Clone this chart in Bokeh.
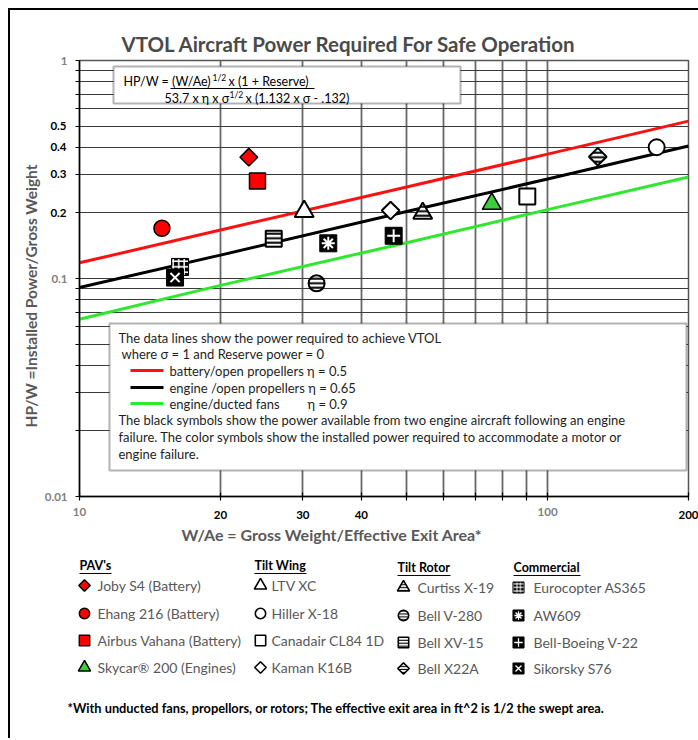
import math
from bokeh.plotting import figure
from bokeh.models import (FixedTicker, Label, BoxAnnotation, Range1d, CustomJSTickFormatter,
                          LogAxis, Title)
from bokeh.layouts import column
from bokeh.core.properties import value
from bokeh.embed import file_html
from bokeh.resources import INLINE

FONT = "Lato"

# ------------------------------------------------------------------ data
line_x = [10, 20, 50, 100, 200]
battery_open = [0.118, 0.167, 0.263, 0.372, 0.527]   # eta = 0.5
engine_open = [0.091, 0.128, 0.203, 0.286, 0.405]    # eta = 0.65
engine_ducted = [0.065, 0.093, 0.146, 0.207, 0.292]  # eta = 0.9

pav_names = ["Joby S4 (Battery)", "Ehang 216 (Battery)", "Airbus Vahana (Battery)", "Skycar\u00ae 200 (Engines)"]
pav_wae = [23.0, 15.0, 24.0, 76.0]
pav_hpw = [0.36, 0.17, 0.28, 0.22]

tiltwing_names = ["LTV XC", "Hiller X-18", "Canadair CL84 1D", "Kaman K16B"]
tiltwing_wae = [30.2, 171.0, 90.5, 46.2]
tiltwing_hpw = [0.203, 0.40, 0.238, 0.205]

tiltrotor_names = ["Curtiss X-19", "Bell V-280", "Bell XV-15", "Bell X22A"]
tiltrotor_wae = [54.1, 32.1, 26.0, 128.0]
tiltrotor_hpw = [0.199, 0.095, 0.152, 0.362]

commercial_names = ["Eurocopter AS365", "AW609", "Bell-Boeing V-22", "Sikorsky S76"]
commercial_wae = [16.4, 34.0, 46.9, 16.0]
commercial_hpw = [0.113, 0.145, 0.157, 0.101]

x_black_ticks = [20, 30, 40, 200]
x_black_labels = ["20", "30", "40", "200"]
x_grey_ticks = [10, 100]
x_grey_labels = ["10", "100"]
y_black_ticks = [0.5, 0.4, 0.3, 0.2]
y_black_labels = ["0.5", "0.4", "0.3", "0.2"]
y_grey_ticks = [1, 0.1, 0.01]
y_grey_labels = ["1", "0.1", "0.01"]

# ------------------------------------------------------------------ layout helpers (page px -> data)
X_L, X_R, Y_T, Y_B = 79, 688, 60, 496


def xd(px):
    return 10 * 20 ** ((px - X_L) / (X_R - X_L))


def yd(py):
    return 10 ** (-2 * (py - Y_T) / (Y_B - Y_T))


def draw_symbol(fig, xs, ys, shape, style, s):
    kw = dict(line_color="black")
    if shape == "diamond":
        kw.update(marker="square", angle=math.pi / 4, size=12.5 * s)
    elif shape == "circle":
        kw.update(marker="circle", size=16 * s)
    elif shape == "square":
        kw.update(marker="square", size=16 * s)
    else:
        kw.update(marker="triangle", size=19 * s)
    if style == "red":
        kw.update(fill_color="#ff0000", line_width=1.5)
    elif style == "green":
        kw.update(fill_color="#3ccc3c", line_width=1.5)
    elif style == "open":
        kw.update(fill_color="white", line_width=2 * s if s > 0.8 else 1.6)
    else:
        kw.update(fill_color="white", line_width=2 * s if s > 0.8 else 1.6,
                  hatch_pattern="horizontal_line", hatch_color="black",
                  hatch_weight=2 * s, hatch_scale=4.5 * s)
    fig.scatter(xs, ys, **kw)


def draw_commercial(fig, x, y, kind, s):
    if kind == "checker":
        fig.scatter([x], [y], marker="square", size=17 * s, fill_color="black", line_color="black",
                    hatch_pattern="cross", hatch_color="white", hatch_weight=1.5 * s, hatch_scale=5.5 * s)
    else:
        fig.scatter([x], [y], marker="square", size=17 * s, fill_color="black", line_color="black")
        fig.scatter([x], [y], marker=kind, size=13 * s, line_color="white", line_width=2 * s, fill_color=None)


def label_formatter(vals, labs):
    return CustomJSTickFormatter(args=dict(vals=vals, labs=labs), code="""
        for (let i = 0; i < vals.length; i++) {
            if (Math.abs(tick / vals[i] - 1) < 1e-6) { return labs[i]; }
        }
        return '';
    """)


pav_shapes = ["diamond", "circle", "square", "triangle"]
pav_styles = ["red", "red", "red", "green"]
tw_shapes = ["triangle", "circle", "square", "diamond"]
tr_shapes = ["triangle", "circle", "square", "diamond"]
com_kinds = ["checker", "asterisk", "cross", "x"]

# ------------------------------------------------------------------ main chart
p = figure(width=688, height=546, x_axis_type="log", y_axis_type="log",
           x_range=Range1d(10, 200), y_range=Range1d(0.01, 1),
           output_backend="svg", toolbar_location=None, title=None,
           min_border_left=69, min_border_right=10, min_border_top=50, min_border_bottom=60,
           background_fill_color="white", border_fill_color="white")
p.frame_align = False
p.outline_line_color = "#555555"
p.outline_line_width = 1.5

all_x_ticks = [10, 20, 30, 40, 50, 60, 70, 80, 90, 100, 200]
all_y_ticks = [k * 10.0 ** e for e in (-2, -1) for k in range(1, 10)] + [1.0]

# inner axes: tick marks + grey labels
xa = p.xaxis[0]
ya = p.yaxis[0]
xa.ticker = FixedTicker(ticks=all_x_ticks, minor_ticks=[])
ya.ticker = FixedTicker(ticks=all_y_ticks, minor_ticks=[])
xa.formatter = label_formatter(x_grey_ticks, x_grey_labels)
ya.formatter = label_formatter(y_grey_ticks, y_grey_labels)
for ax in (xa, ya):
    ax.axis_line_color = "black"
    ax.axis_line_width = 1.5
    ax.major_tick_line_color = "black"
    ax.major_tick_line_width = 1.2
    ax.minor_tick_line_color = None
    ax.major_label_text_color = "#808080"
xa.major_tick_in = 4
xa.major_tick_out = 4
xa.major_label_standoff = 7
ya.major_tick_in = 0
ya.major_tick_out = 4
ya.major_label_standoff = 8

# outer axes: black labels pulled back onto the same line
xb = LogAxis(ticker=FixedTicker(ticks=x_black_ticks, minor_ticks=[]),
             formatter=label_formatter(x_black_ticks, x_black_labels))
yb = LogAxis(ticker=FixedTicker(ticks=y_black_ticks, minor_ticks=[]),
             formatter=label_formatter(y_black_ticks, y_black_labels))
for ax in (xb, yb):
    ax.axis_line_color = None
    ax.major_tick_line_color = None
    ax.minor_tick_line_color = None
    ax.major_tick_in = 0
    ax.major_tick_out = 0
    ax.major_label_text_color = "black"
xb.major_label_standoff = -8
yb.major_label_standoff = -25
p.add_layout(xb, "below")
p.add_layout(yb, "left")
for ax in (xa, ya, xb, yb):
    ax.major_label_text_font = FONT
    ax.major_label_text_font_size = "11.5px"
    ax.major_label_text_font_style = "bold"

p.xgrid.ticker = FixedTicker(ticks=[20, 30, 40, 50, 60, 70, 80, 90, 100])
p.ygrid.ticker = FixedTicker(ticks=[t for t in all_y_ticks if 0.01 < t < 1])
p.xgrid.grid_line_color = "#686868"
p.xgrid.grid_line_width = 1.8
p.ygrid.grid_line_color = "#3a3a3a"
p.ygrid.grid_line_width = 1.2

# titles
p.add_layout(Title(text="VTOL Aircraft Power Required For Safe Operation", align="left", offset=42,
                   text_font=FONT, text_font_size="20.5px", text_font_style="bold",
                   text_color="#4a4a4a", standoff=10), "above")
p.add_layout(Title(text="W/Ae = Gross Weight/Effective Exit Area*", align="left", offset=102,
                   text_font=FONT, text_font_size="16px", text_font_style="bold",
                   text_color="#595959", standoff=2), "below")
p.add_layout(Title(text="HP/W =Installed Power/Gross Weight", align="left", offset=69,
                   text_font=FONT, text_font_size="15.5px", text_font_style="bold",
                   text_color="#595959", standoff=3), "left")

# data lines
p.line(line_x, battery_open, color="#ff1010", line_width=3)
p.line(line_x, engine_open, color="black", line_width=3)
p.line(line_x, engine_ducted, color="#2ee82e", line_width=3)

# points
for i in range(4):
    draw_symbol(p, [pav_wae[i]], [pav_hpw[i]], pav_shapes[i], pav_styles[i], 1.0)
for i in range(4):
    draw_symbol(p, [tiltwing_wae[i]], [tiltwing_hpw[i]], tw_shapes[i], "open", 1.0)
for i in range(4):
    draw_symbol(p, [tiltrotor_wae[i]], [tiltrotor_hpw[i]], tr_shapes[i], "hatch", 1.0)
for i in range(4):
    draw_commercial(p, commercial_wae[i], commercial_hpw[i], com_kinds[i], 1.0)


def lab(text, px, py, size="12px", color="black", bold=False, align="left", xo=0, yo=0):
    p.add_layout(Label(x=xd(px), y=yd(py), text=text, x_offset=xo, y_offset=yo,
                       text_font=FONT, text_font_size=size, text_color=color,
                       text_font_style="bold" if bold else "normal",
                       text_align=align, text_baseline="middle", level="overlay"))


# formula box
FS = "12.5px"
p.add_layout(BoxAnnotation(left=xd(113), right=xd(460), top=yd(66), bottom=yd(103),
                           fill_color="white", fill_alpha=1, line_color="black", line_width=2))
lab("HP/W = (W/Ae)", 123, 81, size=FS)
lab("1/2", 123, 81, size="8.5px", xo=89, yo=4)
lab("x (1 + Reserve)", 123, 81, size=FS, xo=105)
p.segment(x0=[xd(170)], y0=[yd(88)], x1=[xd(314)], y1=[yd(88)], line_color="black", line_width=1, level="overlay")
lab("53.7 x \u03b7 x \u03c3", 164, 98, size=FS)
lab("1/2", 164, 98, size="8.5px", xo=65, yo=4)
lab("x (1.132 x \u03c3 - .132)", 164, 98, size=FS, xo=81)

# note box
p.add_layout(BoxAnnotation(left=xd(109), right=xd(686), top=yd(323), bottom=yd(470),
                           fill_color="white", fill_alpha=1, line_color="black", line_width=2))
NS = "13px"
NC = "#1e1e1e"
lab("The data lines show the power required to achieve VTOL", 118, 337, size=NS, color=NC)
lab("where \u03c3 = 1 and Reserve power = 0", 121, 353, size=NS, color=NC)
lab("battery/open propellers \u03b7 = 0.5", 169, 370, size=NS, color=NC)
lab("engine /open propellers \u03b7 = 0.65", 169, 387, size=NS, color=NC)
lab("engine/ducted fans", 169, 403, size=NS, color=NC)
lab("\u03b7 = 0.9", 307, 403, size=NS, color=NC)
lab("The black symbols show the power available from two engine aircraft following an engine", 118, 419, size=NS, color=NC)
lab("failure. The color symbols show the installed power required to accommodate a motor or", 118, 436, size=NS, color=NC)
lab("engine failure.", 118, 453, size=NS, color=NC)
for py, col in ((370, "#ff1010"), (387, "black"), (403, "#2ee82e")):
    p.segment(x0=[xd(130)], y0=[yd(py)], x1=[xd(163)], y1=[yd(py)], line_color=col, line_width=3, level="overlay")

# ------------------------------------------------------------------ legend panel
q = figure(width=688, height=182, x_range=Range1d(0, 688), y_range=Range1d(182, 0),
           output_backend="svg", toolbar_location=None, title=None,
           x_axis_location=None, y_axis_location=None, min_border=0,
           outline_line_color=None, background_fill_color="white", border_fill_color="white")
q.frame_align = False
q.grid.visible = False

headers = ["PAV's", "Tilt Wing", "Tilt Rotor", "Commercial"]
head_x = [69, 244, 387, 503]
head_y = [9, 9, 11, 11]
head_w = [32, 52, 53, 67]
q.text(x=head_x, y=head_y, text=headers, text_font=value(FONT), text_font_size="12.5px",
       text_font_style="bold", text_color="black", text_baseline="middle")
q.segment(x0=head_x, y0=[h + 8 for h in head_y], x1=[a + b for a, b in zip(head_x, head_w)],
          y1=[h + 8 for h in head_y], line_color="black", line_width=1)

rows_l = [29, 57, 84, 111]
rows_r = [31, 59, 86, 112]
mk_x = [74, 250, 393, 508]
tx_x = [87, 261, 407, 523]
groups = [pav_names, tiltwing_names, tiltrotor_names, commercial_names]
for g, names in enumerate(groups):
    rows = rows_l if g < 2 else rows_r
    q.text(x=[tx_x[g]] * 4, y=rows, text=names, text_font=value(FONT), text_font_size="14px",
           text_color="#595959", text_baseline="middle")
    for i in range(4):
        if g == 0:
            draw_symbol(q, [mk_x[g]], [rows[i]], pav_shapes[i], pav_styles[i], 0.65)
        elif g == 1:
            draw_symbol(q, [mk_x[g]], [rows[i]], tw_shapes[i], "open", 0.65)
        elif g == 2:
            draw_symbol(q, [mk_x[g]], [rows[i]], tr_shapes[i], "hatch", 0.65)
        else:
            draw_commercial(q, mk_x[g], rows[i], com_kinds[i], 0.65)

q.text(x=[57], y=[151],
       text=["*With unducted fans, propellors, or rotors; The effective exit area in ft^2 is 1/2  the swept area."],
       text_font=value(FONT), text_font_size="12.8px", text_font_style="bold", text_color="black",
       text_baseline="middle")

layout = column(p, q, styles={"margin-left": "8px", "margin-top": "8px",
                              "border-top": "2px solid black", "border-left": "2px solid black"})
open("out.html", "w").write(file_html(layout, INLINE))
